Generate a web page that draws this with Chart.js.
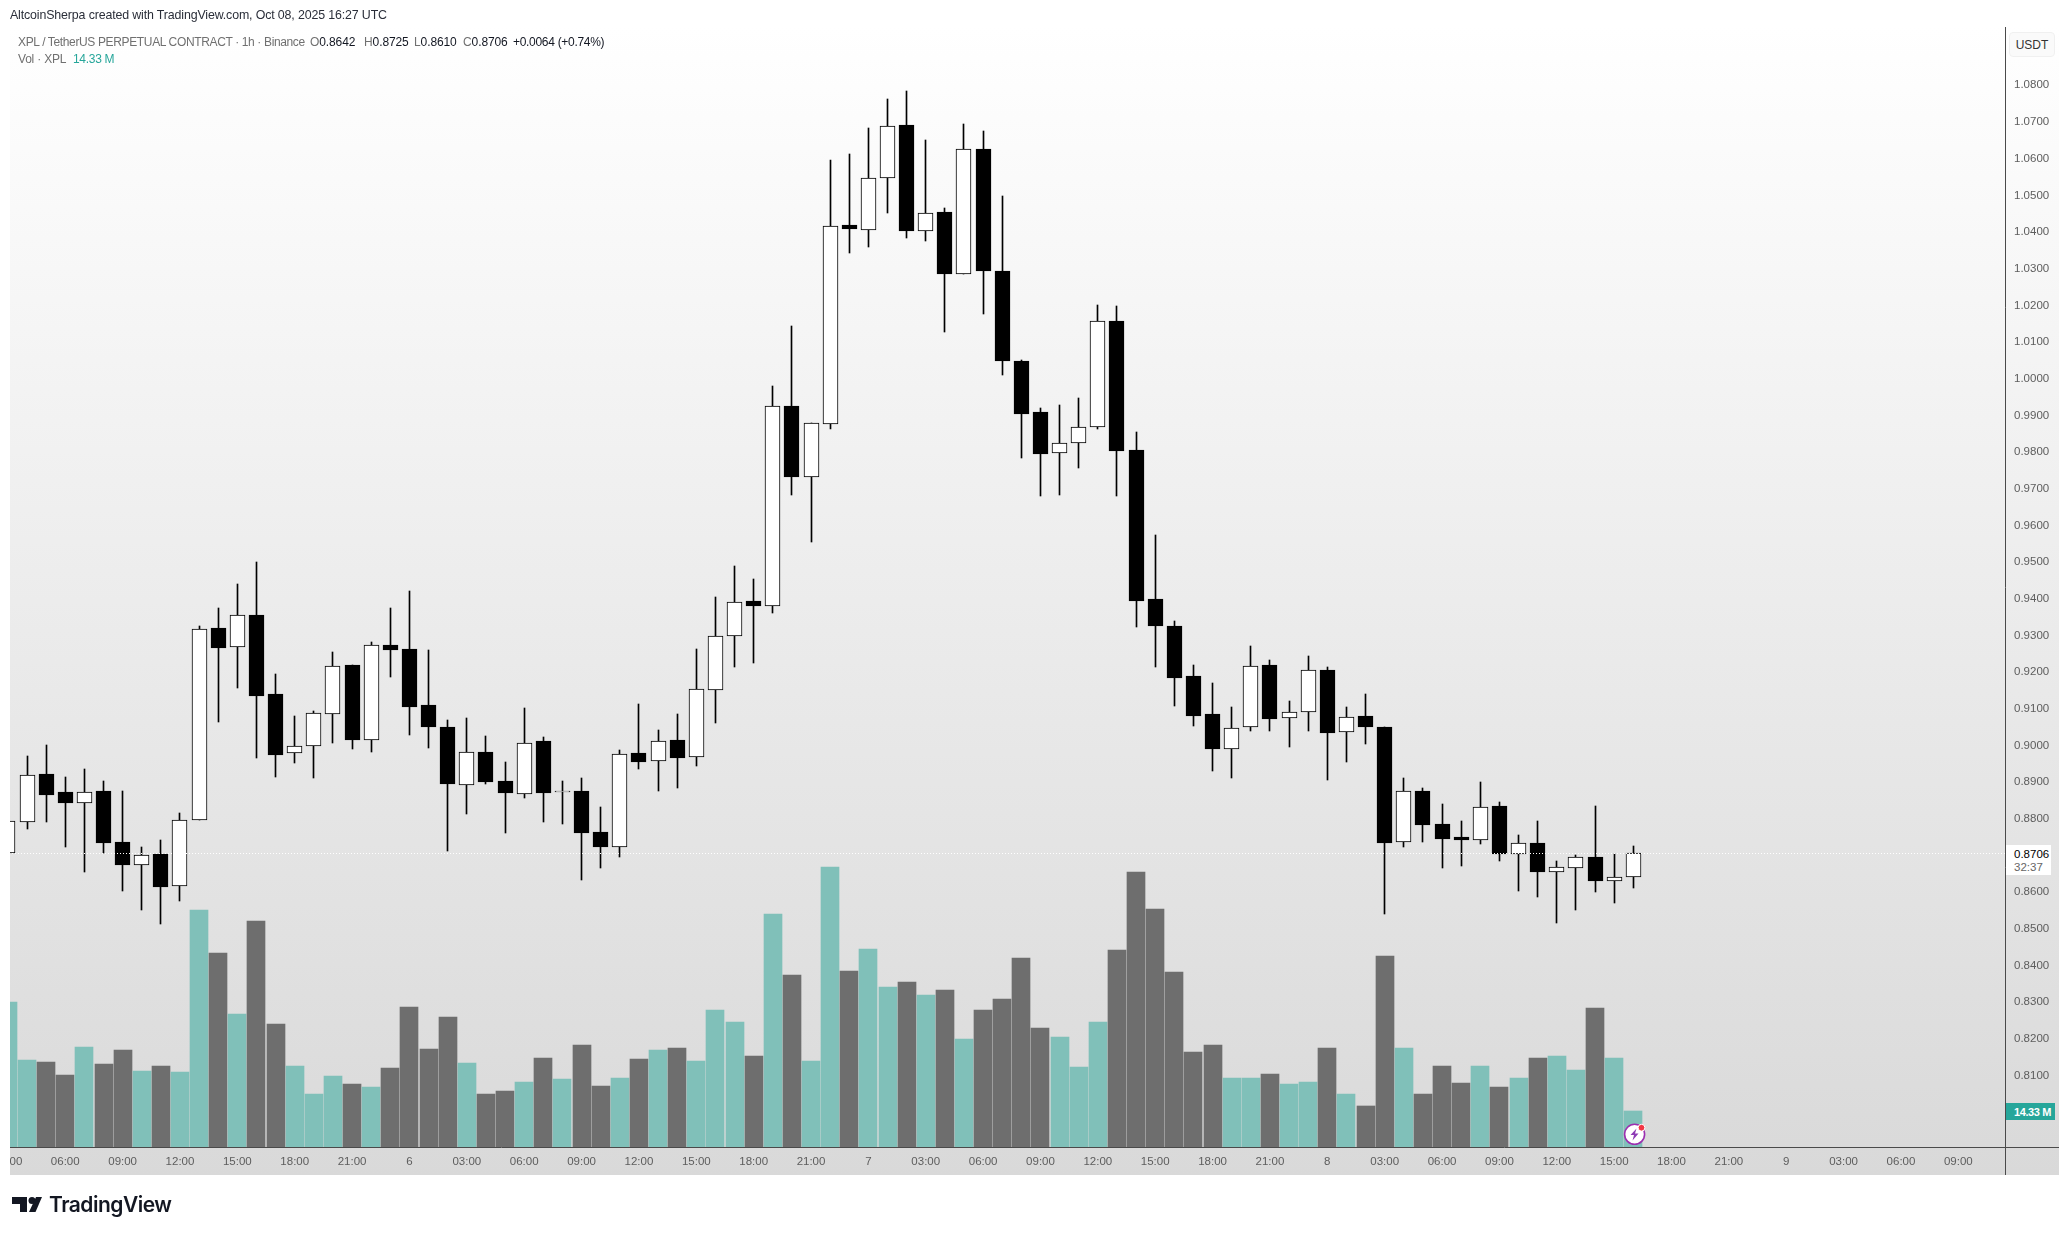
<!DOCTYPE html>
<html>
<head>
<meta charset="utf-8">
<title>XPL / TetherUS PERPETUAL CONTRACT</title>
<script src="https://cdn.jsdelivr.net/npm/chart.js@4"></script>
<style>
html,body{margin:0;padding:0;background:#fff;width:2069px;height:1235px;overflow:hidden}
*{box-sizing:border-box}
.t{position:absolute;white-space:nowrap;font-family:"Liberation Sans",sans-serif;font-size:12px;line-height:14px;color:#707070}
.b{color:#131722}
#frame{position:absolute;left:10px;top:27px;width:2049px;height:1148px;background:linear-gradient(#ffffff,#d9d9d9)}
#c{position:absolute;left:0;top:0}
.box{position:absolute}
</style>
</head>
<body>
<div id="frame"></div>
<canvas id="c" width="2069" height="1235"></canvas>
<div class="box" style="left:0;top:27px;width:10px;height:1148px;background:#fff"></div>
<div class="box" style="left:2005px;top:1147px;width:1px;height:28px;background:#4a4a4a"></div>
<div class="box" style="left:2005px;top:1147px;width:54px;height:1px;background:#4a4a4a"></div>

<div class="t" style="left:10px;top:8px;color:#2a2e39;font-size:12.4px;letter-spacing:-0.14px">AltcoinSherpa created with TradingView.com, Oct 08, 2025 16:27 UTC</div>
<div class="t" style="left:18px;top:35px;letter-spacing:-0.36px">XPL / TetherUS PERPETUAL CONTRACT · 1h · Binance</div>
<div class="t" style="left:310px;top:35px;letter-spacing:-0.1px">O<span class="b">0.8642</span></div>
<div class="t" style="left:364px;top:35px;letter-spacing:-0.1px">H<span class="b">0.8725</span></div>
<div class="t" style="left:414px;top:35px;letter-spacing:-0.1px">L<span class="b">0.8610</span></div>
<div class="t" style="left:463px;top:35px;letter-spacing:-0.1px">C<span class="b">0.8706</span></div>
<div class="t b" style="left:513px;top:35px;letter-spacing:-0.3px">+0.0064 (+0.74%)</div>
<div class="t" style="left:18px;top:52px;letter-spacing:-0.2px">Vol · XPL</div>
<div class="t" style="left:73px;top:52px;color:#26a69a;letter-spacing:-0.3px">14.33 M</div>

<div class="t" style="left:2009px;top:32px;width:46px;height:25px;line-height:24px;text-align:center;background:#fafafa;border:1px solid #f0f0f0;border-radius:4px;color:#333">USDT</div>
<div class="box" style="left:2006px;top:845px;width:45px;height:30px;background:#fff"></div>
<div class="t" style="left:2014px;top:847px;color:#000;font-size:11.5px">0.8706</div>
<div class="t" style="left:2014px;top:860px;color:#666;font-size:11.5px">32:37</div>
<div class="box" style="left:2006px;top:1103px;width:49px;height:17px;background:#26a69a"></div>
<div class="t" style="left:2014px;top:1105px;color:#fff;font-size:11px;font-weight:bold;letter-spacing:-0.4px">14.33 M</div>

<svg style="position:absolute;left:1620px;top:1120px" width="28" height="28" viewBox="0 0 28 28">
  <circle cx="14.6" cy="14.3" r="10" fill="#fff" stroke="#9c2fb0" stroke-width="1.6"/>
  <path d="M16.5 8.5 L10.5 15 L14 15 L12.5 20.5 L18.5 13.5 L15 13.5 Z" fill="#8e3bb5"/>
  <circle cx="21.5" cy="7.7" r="3.4" fill="#f23645" stroke="#fff" stroke-width="1"/>
</svg>

<svg style="position:absolute;left:12px;top:1196px" width="32" height="17" viewBox="0 0 32 17">
  <path d="M0 1 H15 V16 H8 V8 H0 Z" fill="#131722"/>
  <circle cx="20" cy="4.5" r="3.5" fill="#131722"/>
  <path d="M24 1 H30 L23.5 16 H17 Z" fill="#131722"/>
</svg>
<div class="t" style="left:49px;top:1192px;font-family:Inter,sans-serif;font-weight:600;font-size:21px;line-height:26px;color:#131722;letter-spacing:-0.5px">TradingView</div>

<script>
// Hourly candles, first = 03:00 on the 5th
const opens = [0.8706,0.8791,0.8921,0.8872,0.8843,0.8875,0.8738,0.8674,0.8703,0.8616,0.8797,0.9319,0.9268,0.9357,0.9139,0.8979,0.8998,0.9085,0.9218,0.9014,0.9273,0.9262,0.9109,0.9049,0.8892,0.8981,0.8902,0.8867,0.9011,0.8872,0.8875,0.8763,0.8724,0.8978,0.8957,0.9016,0.8968,0.9151,0.9298,0.9393,0.9380,0.9925,0.9732,0.9877,1.0418,1.0405,1.0546,1.0691,1.0403,1.0454,1.0286,1.0625,1.0295,1.0047,0.9908,0.9797,0.9824,0.9868,1.0156,0.9805,0.9398,0.9327,0.9188,0.9085,0.8990,0.9050,0.9218,0.9074,0.9091,0.9207,0.9036,0.9079,0.9049,0.8736,0.8877,0.8785,0.8749,0.8742,0.8834,0.8704,0.8733,0.8654,0.8665,0.8697,0.8630,0.8642];
const highs = [0.8809,0.8970,0.9000,0.8915,0.8937,0.8902,0.8877,0.8724,0.8741,0.8817,0.9325,0.9376,0.9439,0.9499,0.9194,0.9079,0.9095,0.9256,0.9218,0.9281,0.9376,0.9420,0.9259,0.9068,0.9076,0.9027,0.8954,0.9101,0.9022,0.8902,0.8910,0.8831,0.8988,0.9112,0.9041,0.9085,0.9262,0.9404,0.9488,0.9453,0.9979,1.0143,0.9880,1.0595,1.0612,1.0683,1.0762,1.0784,1.0650,1.0465,1.0694,1.0675,1.0497,1.0050,0.9919,0.9927,0.9946,1.0200,1.0197,0.9856,0.9573,0.9338,0.9218,0.9169,0.9104,0.9270,0.9232,0.9120,0.9245,0.9213,0.9106,0.9139,0.9049,0.8910,0.8885,0.8839,0.8795,0.8899,0.8847,0.8757,0.8793,0.8684,0.8700,0.8834,0.8705,0.8725];
const lows = [0.8697,0.8772,0.8790,0.8723,0.8654,0.8706,0.8603,0.8551,0.8513,0.8575,0.8797,0.9064,0.9156,0.8965,0.8913,0.8952,0.8911,0.9006,0.8990,0.8982,0.9186,0.9028,0.8993,0.8712,0.8813,0.8894,0.8761,0.8856,0.8791,0.8785,0.8633,0.8665,0.8695,0.8935,0.8875,0.8885,0.8943,0.9061,0.9215,0.9226,0.9360,0.9683,0.9556,0.9863,1.0343,1.0359,1.0452,1.0384,1.0375,1.0127,1.0286,1.0176,1.0010,0.9784,0.9680,0.9683,0.9756,0.9863,0.9680,0.9323,0.9214,0.9107,0.9053,0.8930,0.8911,0.9039,0.9039,0.8995,0.9039,0.8905,0.8954,0.9003,0.8539,0.8723,0.8738,0.8665,0.8670,0.8730,0.8684,0.8602,0.8588,0.8515,0.8550,0.8599,0.8569,0.8610];
const closes = [0.8793,0.8920,0.8866,0.8842,0.8874,0.8735,0.8673,0.8702,0.8615,0.8797,0.9318,0.9267,0.9356,0.9136,0.8975,0.8999,0.9089,0.9217,0.9014,0.9275,0.9259,0.9106,0.9049,0.8894,0.8983,0.8899,0.8869,0.9007,0.8869,0.8875,0.8760,0.8722,0.8977,0.8956,0.9013,0.8967,0.9155,0.9299,0.9392,0.9379,0.9926,0.9732,0.9880,1.0417,1.0407,1.0546,1.0690,1.0402,1.0453,1.0285,1.0625,1.0293,1.0047,0.9903,0.9794,0.9826,0.9869,1.0156,0.9802,0.9395,0.9325,0.9183,0.9079,0.8989,0.9048,0.9217,0.9071,0.9092,0.9206,0.9035,0.9078,0.9049,0.8735,0.8876,0.8782,0.8746,0.8741,0.8833,0.8703,0.8735,0.8654,0.8669,0.8696,0.8629,0.8642,0.8706];
const volumes = [57.7,34.6,33.8,28.7,39.8,33.0,38.6,30.2,32.2,29.9,94.3,77.2,52.9,89.9,49.0,32.2,21.1,28.3,25.1,23.9,31.4,55.7,39.0,51.7,33.4,21.1,22.3,25.9,35.4,27.1,40.6,24.3,27.5,35.0,38.6,39.4,34.2,54.5,49.8,36.2,92.7,68.5,34.2,111.4,70.0,78.8,63.7,65.7,60.5,62.5,43.0,54.5,58.9,75.2,47.4,43.8,31.8,49.8,78.4,109.5,94.7,69.7,37.8,40.6,27.5,27.5,29.1,25.1,25.9,39.4,21.1,16.3,76.0,39.4,21.1,32.2,25.5,32.2,23.9,27.5,35.4,36.2,30.6,55.3,35.4,14.33];
// x axis: one label every third hour, first at hour 0
const timeTicks = ['03:00','06:00','09:00','12:00','15:00','18:00','21:00','6','03:00','06:00','09:00','12:00','15:00','18:00','21:00','7','03:00','06:00','09:00','12:00','15:00','18:00','21:00','8','03:00','06:00','09:00','12:00','15:00','18:00','21:00','9','03:00','06:00','09:00'];
const priceTicks = [1.08,1.07,1.06,1.05,1.04,1.03,1.02,1.01,1.00,0.99,0.98,0.97,0.96,0.95,0.94,0.93,0.92,0.91,0.90,0.89,0.88,0.87,0.86,0.85,0.84,0.83,0.82,0.81];
const lastPrice = 0.8706;
const hourStep = 3;

const X_MIN = -0.413, X_MAX = 104.44, Y_MIN = 0.7905, Y_MAX = 1.0959, VOL_MAX = 445.8;
const UP = '#80c0b9', DOWN = '#6e6e6e';
const AXIS = '#4a4a4a', LABEL = '#5d5d5d';
const tickFont = {family:'"Liberation Sans", sans-serif', size:11.5};

const up = i => closes[i] >= opens[i];
const idx = opens.map((_, i) => i);

// Snap the bars to whole pixels so wicks and body edges stay crisp, as in the reference
const snap = {
  id:'snap',
  beforeDatasetsDraw(chart){
    chart.getSortedVisibleDatasetMetas().forEach(m=>{
      m.data.forEach(el=>{
        if(m.type==='bar'){
          const w = Math.round(el.width);
          el.x = w % 2 ? Math.floor(el.x)+0.5 : Math.round(el.x);
          el.y = Math.round(el.y);
          el.base = Math.round(el.base);
        } else {
          el.y = Math.floor(el.y)+0.5;
        }
      });
    });
  }
};

new Chart(document.getElementById('c').getContext('2d'), {
  type:'bar',
  plugins:[snap],
  data:{
    datasets:[
      {type:'line', label:'Last', order:0, yAxisID:'y', xAxisID:'x',
       data:[{x:X_MIN,y:lastPrice},{x:X_MAX,y:lastPrice}],
       borderColor:'#ffffff', borderWidth:1, borderDash:[1,2], pointRadius:0, tension:0},
      {label:'Body', order:1, yAxisID:'y', xAxisID:'x', grouped:false, barThickness:15,
       data:idx.map(i=>({x:i,y:[opens[i],closes[i]]})),
       backgroundColor:idx.map(i=>up(i)?'#ffffff':'#000000'),
       borderColor:'#000000', borderWidth:1, borderSkipped:false},
      {label:'Wick', order:2, yAxisID:'y', xAxisID:'x', grouped:false, barThickness:1,
       data:idx.map(i=>({x:i,y:[lows[i],highs[i]]})),
       backgroundColor:'#000000', borderWidth:0},
      {label:'Vol', order:3, yAxisID:'y1', xAxisID:'x', grouped:false, barThickness:18,
       data:idx.map(i=>({x:i,y:volumes[i]})),
       backgroundColor:idx.map(i=>up(i)?UP:DOWN), borderWidth:0}
    ]
  },
  options:{
    responsive:false, animation:false,
    layout:{padding:{left:0,top:27,right:10,bottom:60}},
    plugins:{legend:{display:false},tooltip:{enabled:false},title:{display:false}},
    scales:{
      x:{type:'linear', min:X_MIN, max:X_MAX, offset:false,
         grid:{display:false,drawTicks:false}, border:{display:true,color:AXIS,width:1},
         afterBuildTicks(s){ s.ticks = timeTicks.map((_,i)=>({value:i*hourStep})); },
         afterFit(s){ s.height = 28; s.paddingLeft = 0; s.paddingRight = 0; },
         ticks:{autoSkip:false,maxRotation:0,minRotation:0,padding:8,color:LABEL,font:tickFont,
                callback:(v)=>timeTicks[Math.round(v/hourStep)]}},
      y:{type:'linear', position:'right', min:Y_MIN, max:Y_MAX,
         grid:{display:false,drawTicks:false}, border:{display:true,color:AXIS,width:1},
         afterBuildTicks(s){ s.ticks = priceTicks.map(v=>({value:v})); },
         afterFit(s){ s.width = 54; s.paddingTop = 0; s.paddingBottom = 0; },
         ticks:{autoSkip:false,padding:9,color:LABEL,font:tickFont,callback:v=>v.toFixed(4)}},
      y1:{type:'linear', display:false, min:0, max:VOL_MAX, grid:{display:false}}
    }
  }
});
</script>
</body>
</html>
